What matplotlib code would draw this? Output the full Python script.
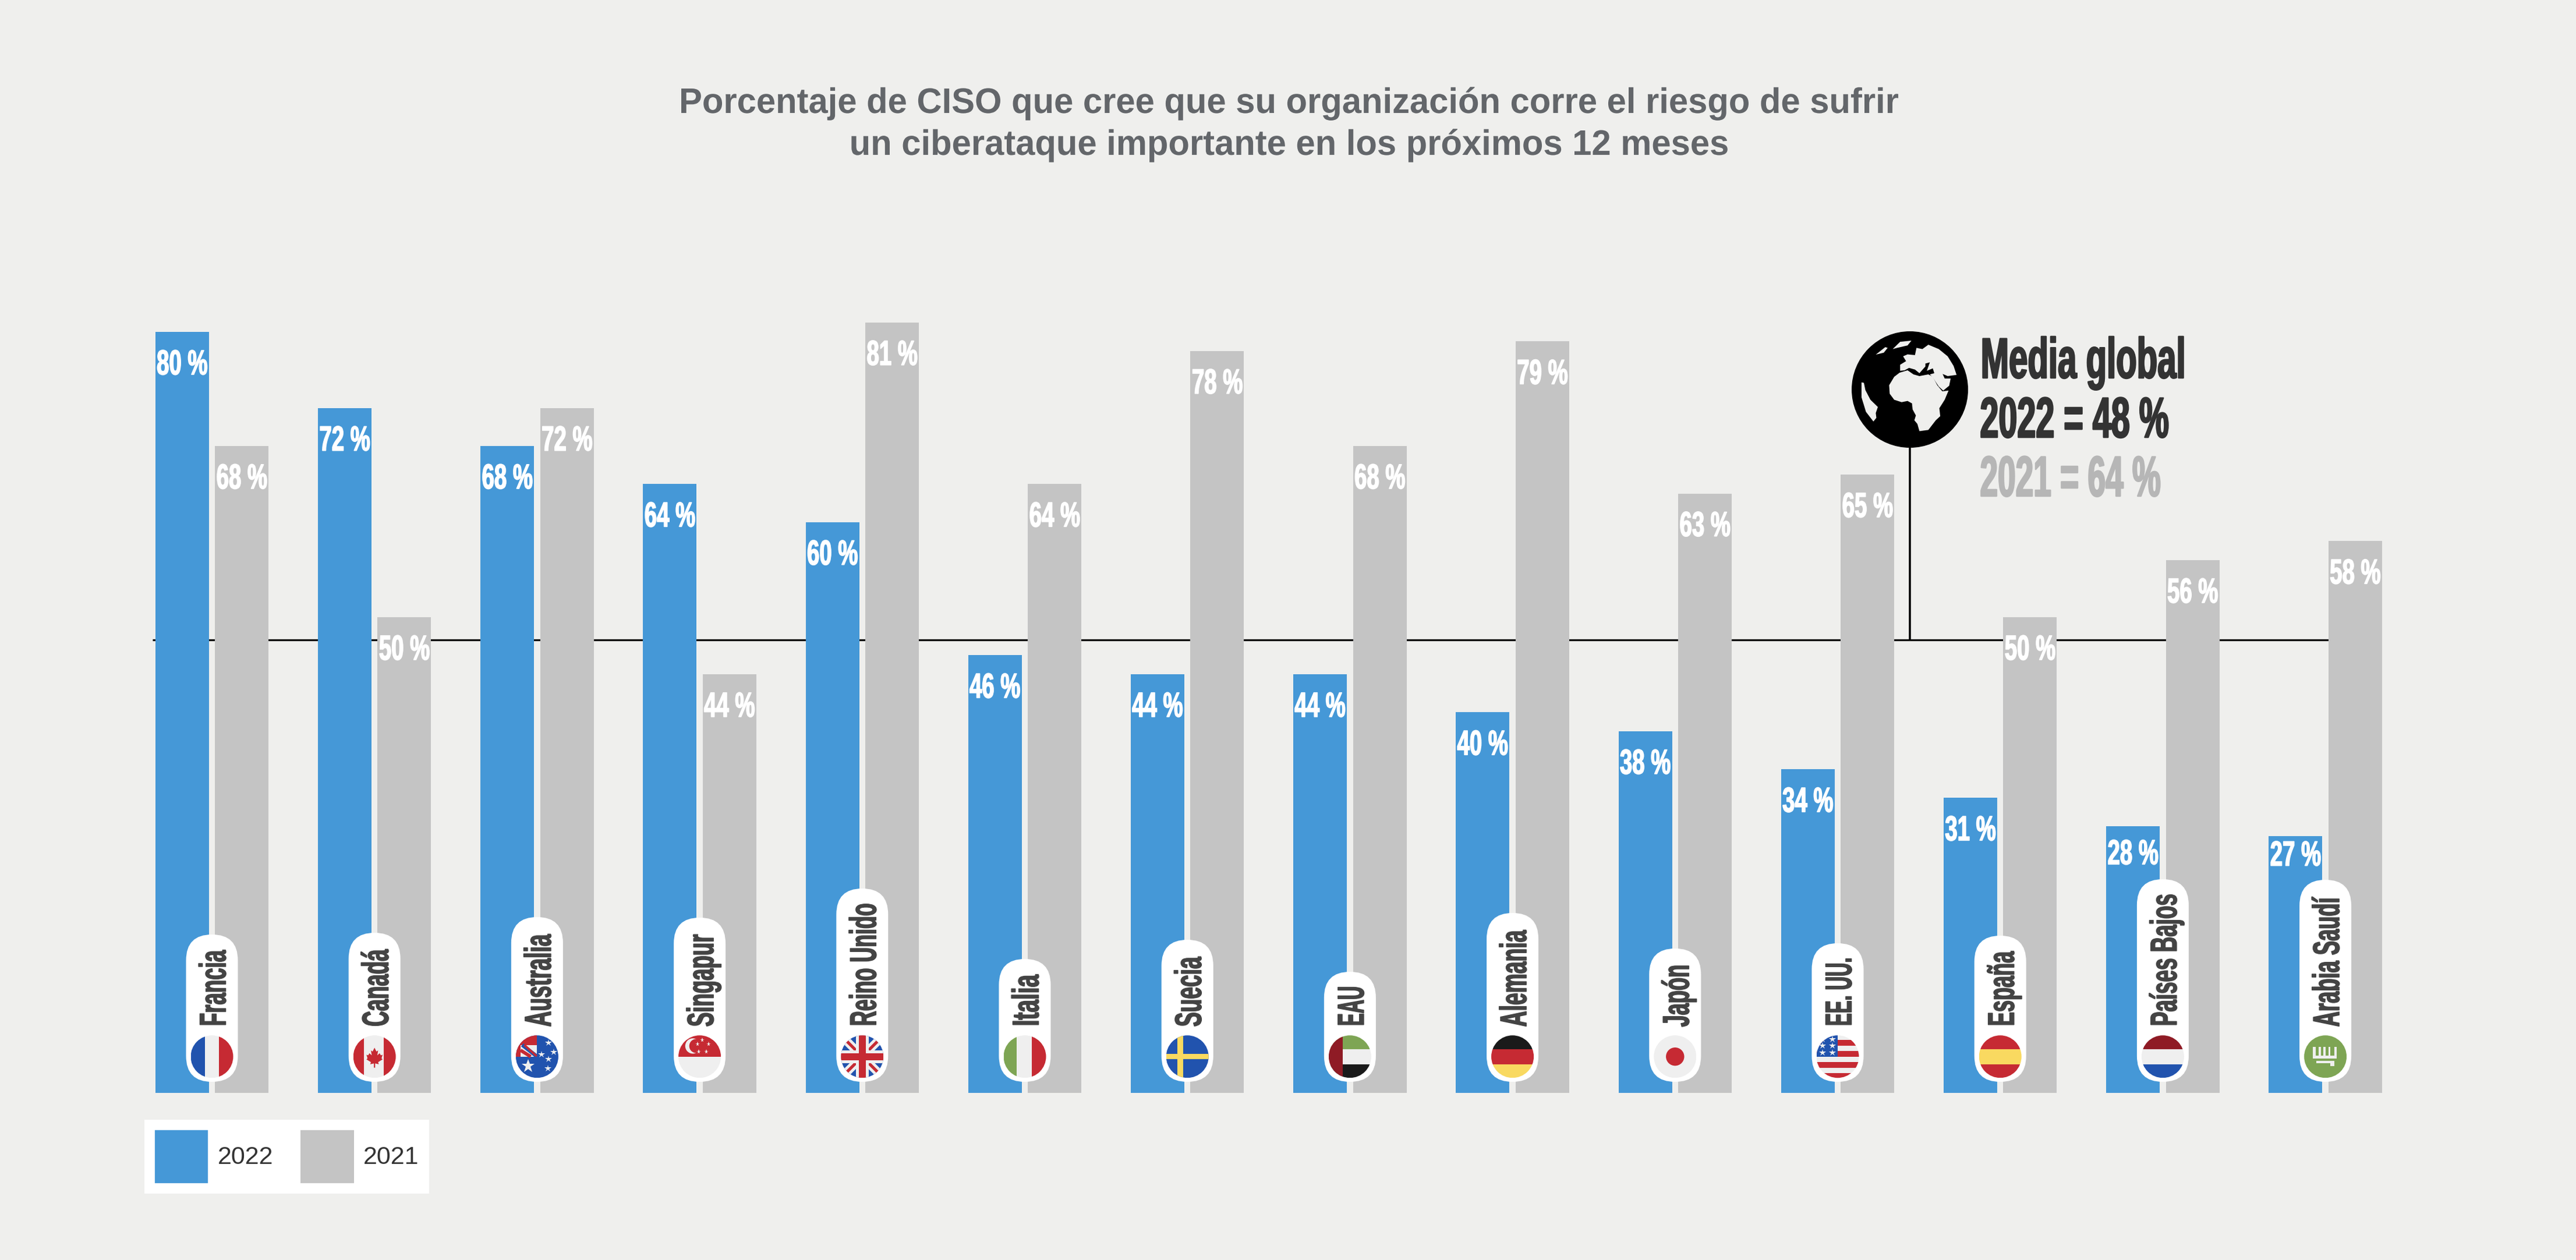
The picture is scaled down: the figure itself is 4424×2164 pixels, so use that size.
import matplotlib
matplotlib.use("Agg")
import matplotlib.pyplot as plt
import matplotlib.patheffects as pe
from matplotlib.font_manager import FontProperties
from matplotlib.patches import Circle, FancyBboxPatch, Polygon
from matplotlib.textpath import TextPath
from matplotlib.transforms import Affine2D, Bbox, IdentityTransform

# ---------- data ----------
countries = ["Francia", "Canadá", "Australia", "Singapur", "Reino Unido", "Italia", "Suecia",
             "EAU", "Alemania", "Japón", "EE. UU.", "España", "Países Bajos", "Arabia Saudí"]
values_2022 = [80, 72, 68, 64, 60, 46, 44, 44, 40, 38, 34, 31, 28, 27]
values_2021 = [68, 50, 72, 44, 81, 64, 78, 68, 79, 63, 65, 50, 56, 58]
average_line = 47.6
title = ("Porcentaje de CISO que cree que su organización corre el riesgo de sufrir\n"
         "un ciberataque importante en los próximos 12 meses")
summary = ["Media global", "2022 = 48 %", "2021 = 64 %"]

# ---------- layout (pixels of the 4424x2164 canvas) ----------
W, H, DPI = 4424, 2164, 100
BG, BLUE, GRAY = "#efefed", "#4598d7", "#c4c4c4"
INK, TITLE_INK, LABEL_INK, LIGHT = "#333333", "#63666a", "#444444", "#b6b6b6"
RED, NAVY, GREEN, YELLOW, DARKRED, OFFWHITE, BLACK = ("#c62a33", "#2153ae", "#7ea554", "#f9d960",
                                                     "#8f1b25", "#efefef", "#1a1a1a")
X0, STEP, BAR_W, BAR_GAP = 364.0, 279.2, 92.0, 10.5
BASE_Y, PX_PER_PCT = 1876.5, 16.33
pill_tops = [1605, 1602, 1575, 1576, 1526, 1647, 1614, 1669, 1568, 1629, 1620, 1607, 1510, 1511]
label_drop = {28: 65, 27: 51}
plt.rcParams["font.family"] = ["Liberation Sans", "DejaVu Sans"]
HEAVY = FontProperties(family="Liberation Sans", weight="bold")


def pt(px):
    return px * 72 / DPI


class Condense(pe.AbstractPathEffect):
    """Squeeze a text's glyphs along its writing direction, optionally thickening them."""

    def __init__(self, sx, centered=False, bold=0.0):
        super().__init__()
        self.sx, self.centered, self.bold = sx, centered, bold

    def draw_path(self, renderer, gc, tpath, affine, rgbFace=None):
        e = tpath.get_extents()
        x0 = (e.x0 + e.x1) / 2 if self.centered else e.x0
        t = Affine2D().translate(-x0, 0).scale(self.sx, 1).translate(x0, 0)
        gc0 = renderer.new_gc()
        gc0.copy_properties(gc)
        gc0.set_linewidth(pt(self.bold))
        if self.bold and rgbFace is not None:
            gc0.set_foreground(rgbFace, isRGBA=len(rgbFace) == 4)
        renderer.draw_path(gc0, tpath, t + affine, rgbFace)
        gc0.restore()


def condense(t, sx, centered=False, bold=0.0):
    """Apply the squeeze and make the text report the extent it really covers."""
    t.set_path_effects([Condense(sx, centered, bold)])
    base = t.get_window_extent
    vertical = t.get_rotation() == 90

    def extent(*a, **k):
        b = base(*a, **k)
        if vertical:
            return Bbox.from_extents(b.x0, b.y0, b.x1, b.y0 + b.height * sx)
        if centered:
            mid = (b.x0 + b.x1) / 2
            return Bbox.from_extents(mid - b.width * sx / 2, b.y0, mid + b.width * sx / 2, b.y1)
        return Bbox.from_extents(b.x0, b.y0, b.x0 + b.width * sx, b.y1)

    t.get_window_extent = extent
    return t


def fit(s, px_size, target, fp=HEAVY):
    return target / TextPath((0, 0), s, size=px_size, prop=fp).get_extents().width


fig = plt.figure(figsize=(W / DPI, H / DPI), dpi=DPI, facecolor=BG)
ax = fig.add_axes([0, 0, 1, 1])
ax.set_xlim(-X0 / STEP, (W - X0) / STEP)
ax.set_ylim(-(H - BASE_Y) / PX_PER_PCT, BASE_Y / PX_PER_PCT)
ax.set_axis_off()

offset = (BAR_W + BAR_GAP) / 2 / STEP
width = BAR_W / STEP
xs = list(range(len(countries)))
ax.hlines(average_line, (262 - X0) / STEP, (4090 - X0) / STEP, color="black", lw=pt(3.2), zorder=1)
ax.bar([x - offset for x in xs], values_2022, width, color=BLUE, label="2022", zorder=2)
ax.bar([x + offset for x in xs], values_2021, width, color=GRAY, label="2021", zorder=2)

val_px = 60
val_sx = fit("65 %", val_px, 85)
for series, sign in ((values_2022, -1), (values_2021, 1)):
    for x, v in zip(xs, series):
        drop = label_drop.get(v, 73) if sign < 0 else 73
        condense(ax.annotate(f"{v} %", (x + sign * offset, v), xytext=(0, -drop), textcoords="offset pixels",
                             ha="center", va="baseline", color="white", fontsize=pt(val_px),
                             fontweight="bold", zorder=3), val_sx, True, 1.6)

ax.legend(loc="upper left", bbox_to_anchor=(248, H - 1922.6), bbox_transform=IdentityTransform(),
          ncols=2, fontsize=pt(43), frameon=True, facecolor="white", edgecolor="none", framealpha=1,
          fancybox=False, borderaxespad=0, borderpad=0.42, handlelength=2.12, handleheight=2.88,
          handletextpad=0.38, columnspacing=1.1, labelcolor=INK)

condense(fig.text(2214 / W, 1 - 214 / H, title, ha="center", va="center", ma="center", color=TITLE_INK,
                  fontsize=pt(61), fontweight="bold", linespacing=1.31),
         fit(title.split("\n")[0], 61, 2090), True)

# ---------- overlay in canvas pixels ----------
d = fig.add_axes([0, 0, 1, 1], facecolor="none")
d.set_xlim(0, W)
d.set_ylim(H, 0)
d.set_axis_off()


class Flag:
    def __init__(self, cx, cy, r):
        self.cx, self.cy, self.r = cx, cy, r
        self.clip = Circle((cx, cy), r, transform=d.transData)

    def _pt(self, u, v):
        return (self.cx + u * self.r, self.cy - v * self.r)

    def poly(self, pts, c):
        p = Polygon([self._pt(*q) for q in pts], closed=True, fc=c, ec="none", zorder=6)
        d.add_patch(p)
        p.set_clip_path(self.clip)

    def rect(self, u0, v0, u1, v1, c):
        self.poly([(u0, v0), (u1, v0), (u1, v1), (u0, v1)], c)

    def band(self, a, b, w, c):
        dx, dy = b[0] - a[0], b[1] - a[1]
        n = (dx * dx + dy * dy) ** 0.5
        ox, oy = -dy / n * w, dx / n * w
        self.poly([(a[0] + ox, a[1] + oy), (b[0] + ox, b[1] + oy),
                   (b[0] - ox, b[1] - oy), (a[0] - ox, a[1] - oy)], c)

    def disc(self, u, v, rr, c):
        p = Circle(self._pt(u, v), rr * self.r, fc=c, ec="none", zorder=6)
        d.add_patch(p)
        p.set_clip_path(self.clip)

    def star(self, u, v, size, c=OFFWHITE):
        x, y = self._pt(u, v)
        line, = d.plot([x], [y], marker="*", ms=pt(size), color=c, mew=0, ls="none", zorder=7)
        line.set_clip_path(self.clip)

    def vbars(self, a, b, cols):
        self.rect(-1, -1, a, 1, cols[0])
        self.rect(a, -1, b, 1, cols[1])
        self.rect(b, -1, 1, 1, cols[2])

    def hbars(self, cols, e=0.36):
        self.rect(-1, e, 1, 1, cols[0])
        self.rect(-1, -e, 1, e, cols[1])
        self.rect(-1, -1, 1, -e, cols[2])


def fr(f):
    f.vbars(-.33, .34, (NAVY, OFFWHITE, RED))


def ca(f):
    f.vbars(-.5, .44, (RED, OFFWHITE, RED))
    leaf = [(0, .42), (.09, .24), (.17, .29), (.13, .06), (.24, .16), (.3, .06), (.38, .09), (.33, -.08),
            (.38, -.13), (.17, -.26), (.2, -.36), (.03, -.32), (.03, -.52), (-.03, -.52), (-.03, -.32),
            (-.2, -.36), (-.17, -.26), (-.38, -.13), (-.33, -.08), (-.38, .09), (-.3, .06), (-.24, .16),
            (-.13, .06), (-.17, .29), (-.09, .24)]
    f.poly(leaf, RED)


def au(f):
    f.rect(-1, -1, 1, 1, NAVY)
    f.rect(-1, 0, 0, 1, RED)
    f.rect(-.78, 0, 0, .55, OFFWHITE)
    f.band((-.7, .55), (0, 0), .09, NAVY)
    f.band((-.6, .55), (-.02, .02), .05, RED)
    f.band((-.78, .3), (-.3, 0), .08, RED)
    f.star(-.42, -.45, 24)
    for u, v in ((.55, .65), (.78, .22), (.22, .1), (.55, -.12), (.5, -.55)):
        f.star(u, v, 13)


def sg(f):
    f.rect(-1, 0, 1, 1, RED)
    f.rect(-1, -1, 1, 0, OFFWHITE)
    f.disc(-.32, .5, .36, OFFWHITE)
    f.disc(-.16, .5, .33, RED)
    for u, v in ((.12, .8), (.42, .6), (.32, .25), (-.05, .25), (-.1, .6)):
        f.star(u, v, 8)


def uk(f):
    f.rect(-1, -1, 1, 1, NAVY)
    f.band((-1, 1), (1, -1), .2, OFFWHITE)
    f.band((-1, -1), (1, 1), .2, OFFWHITE)
    f.band((-1, 1), (1, -1), .07, RED)
    f.band((-1, -1), (1, 1), .07, RED)
    f.rect(-.3, -1, .3, 1, OFFWHITE)
    f.rect(-1, -.3, 1, .3, OFFWHITE)
    f.rect(-.16, -1, .16, 1, RED)
    f.rect(-1, -.16, 1, .16, RED)


def it(f):
    f.vbars(-.37, .32, (GREEN, OFFWHITE, RED))


def se(f):
    f.rect(-1, -1, 1, 1, NAVY)
    f.rect(-.47, -1, -.19, 1, YELLOW)
    f.rect(-1, -.13, 1, .13, YELLOW)


def ae(f):
    f.hbars((GREEN, OFFWHITE, BLACK))
    f.rect(-1, -1, -.34, 1, DARKRED)


def de(f):
    f.hbars((BLACK, RED, YELLOW))


def jp(f):
    f.rect(-1, -1, 1, 1, OFFWHITE)
    f.disc(0, 0, .43, RED)


def us(f):
    f.rect(-1, -1, 1, 1, OFFWHITE)
    for top in (.786, .26, -.26, -.78):
        f.rect(-1, top - .26, 1, top, RED)
    f.rect(-1, 0, 0, 1, NAVY)
    for u in (-.72, -.25):
        for v in (.18, .5, .82):
            f.star(u, v, 12)


def es(f):
    f.hbars((RED, YELLOW, RED))


def nl(f):
    f.hbars((DARKRED, OFFWHITE, NAVY))


def sa(f):
    f.rect(-1, -1, 1, 1, GREEN)
    for u0, u1, v0, v1 in ((-.58, -.46, -.1, .45), (-.32, -.22, 0, .45), (-.1, 0, 0, .45),
                           (.14, .24, 0, .45), (.42, .54, -.05, .45), (-.58, .54, -.1, .04)):
        f.rect(u0, v0, u1, v1, OFFWHITE)
    f.rect(-.43, -.3, .43, -.2, OFFWHITE)
    f.rect(.22, -.44, .43, -.2, OFFWHITE)


flag_painters = [fr, ca, au, sg, uk, it, se, ae, de, jp, us, es, nl, sa]

PILL_W, PILL_BOTTOM, LABEL_START, LABEL_PX = 89.0, 1858.0, 1764.0, 64
for i, (name, top, paint) in enumerate(zip(countries, pill_tops, flag_painters)):
    cx = X0 + STEP * i
    d.add_patch(FancyBboxPatch((cx - PILL_W / 2, top), PILL_W, PILL_BOTTOM - top,
                               boxstyle=f"round,pad=0,rounding_size={PILL_W / 2}",
                               fc="white", ec="none", zorder=5))
    paint(Flag(cx, 1814.7, 36.5))
    condense(d.text(cx + 23.5, LABEL_START, name, rotation=90, rotation_mode="anchor", ha="left",
                    va="baseline", color=LABEL_INK, fontsize=pt(LABEL_PX), fontweight="bold", zorder=8),
             fit(name, LABEL_PX, LABEL_START - top - 31), False, 1.6)

# ---------- globe and summary ----------
GX, GY, GR = 3280.0, 669.0, 100.0
d.plot([GX, GX], [GY, 1099], color="black", lw=pt(3.5), zorder=1, solid_capstyle="butt")
d.add_patch(Circle((GX, GY), GR, fc="black", ec="none", zorder=4))


def zoomed(points):
    return [(3100 + x / 1.96, 500 + y / 2.412) for x, y in points]


land = [
    [(318, 338), (345, 328), (365, 345), (385, 352), (415, 345), (430, 355), (445, 390), (462, 415),
     (483, 412), (470, 450), (452, 485), (455, 518), (440, 535), (415, 575), (385, 580), (378, 550),
     (368, 535), (373, 515), (362, 490), (360, 465), (345, 455), (325, 460), (300, 450), (285, 425),
     (283, 390), (300, 355)],
    [(415, 222), (450, 240), (480, 270), (500, 310), (510, 347), (480, 352), (463, 343), (470, 362),
     (490, 362), (485, 392), (465, 412), (450, 395), (430, 358), (420, 345), (435, 340), (430, 320),
     (410, 330), (420, 295), (405, 300), (405, 312), (385, 340), (370, 325), (350, 318), (335, 328),
     (320, 330), (320, 305), (340, 290), (330, 270), (345, 262), (370, 265), (375, 235), (395, 240)],
    [(295, 240), (320, 210), (358, 205), (345, 225), (310, 235)],
    [(190, 378), (198, 380), (203, 410), (220, 450), (245, 480), (238, 505), (240, 525), (230, 540),
     (205, 500), (190, 440)],
    [(238, 263), (270, 232), (278, 235), (265, 255)],
]
for shape in land:
    d.add_patch(Polygon(zoomed(shape), closed=True, fc=BG, ec="none", zorder=4.5))

for s, base, col, target in zip(summary, (649, 751, 852), (INK, INK, LIGHT), (344, 321, 307)):
    condense(d.text(3399, base, s, ha="left", va="baseline", color=col, fontsize=pt(98),
                    fontweight="bold", zorder=8), fit(s, 98, target), False, 2.5)

fig.savefig("out.png", dpi=DPI, facecolor=BG)
